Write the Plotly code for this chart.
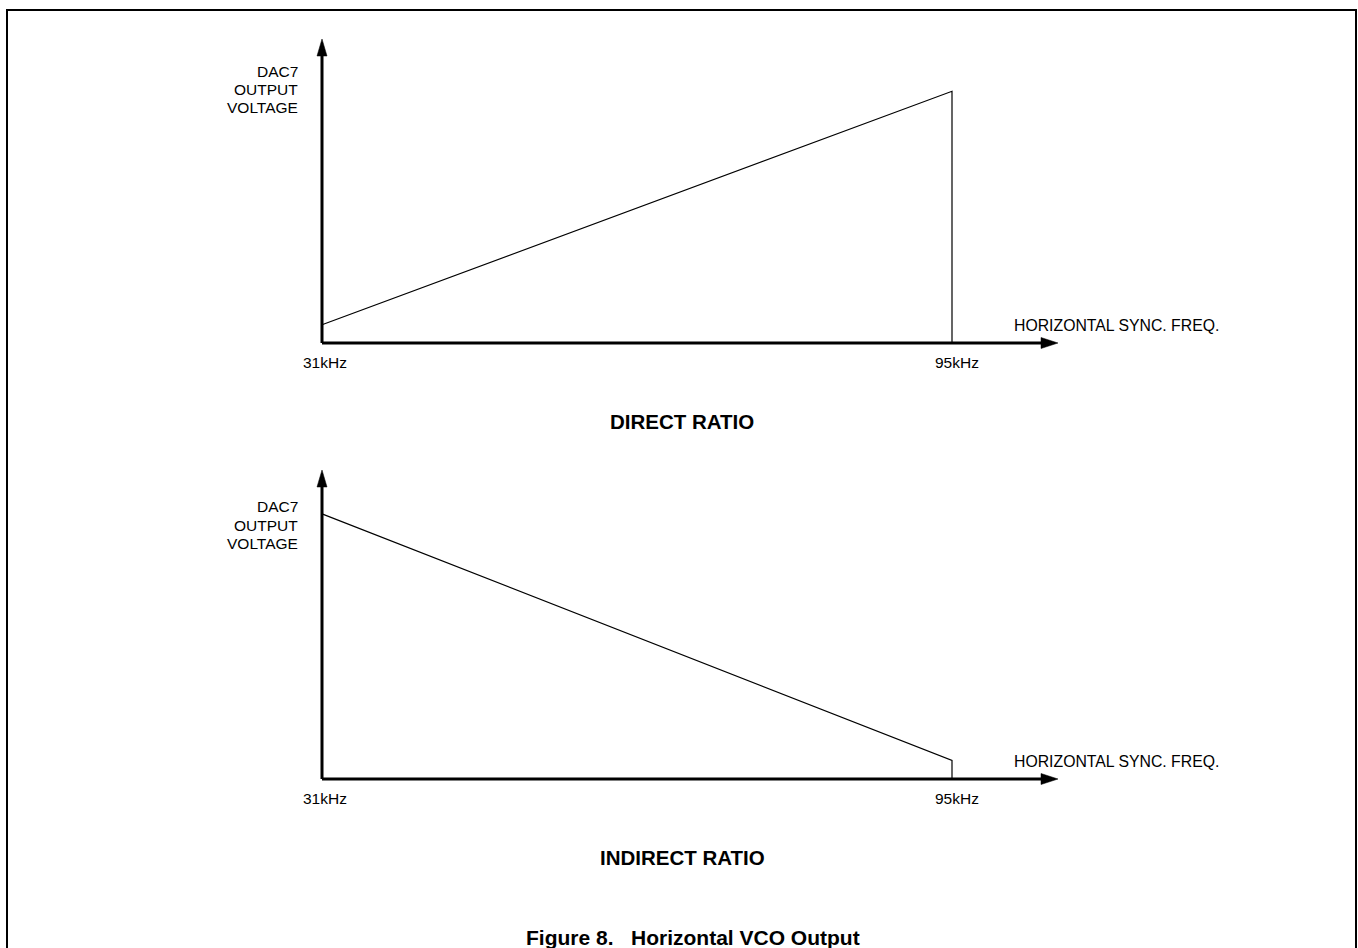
import plotly.graph_objects as go

# ---- data ----
freq_khz = [31, 95, 95]                 # sync frequency points (kHz)
direct_v = [0.30, 4.14, 0.0]            # DAC7 output, direct ratio (arb. units)
indirect_v = [4.29, 0.30, 0.0]          # DAC7 output, indirect ratio (arb. units)
freq_labels = ["31kHz", "95kHz"]
freq_ticks = [31, 95]
y_label_lines = ["DAC7", "OUTPUT", "VOLTAGE"]
x_label = "HORIZONTAL SYNC. FREQ."
panel_titles = ["DIRECT RATIO", "INDIRECT RATIO"]
caption = "Figure 8.\u00a0\u00a0 Horizontal VCO Output"

W, H = 1358, 948
FONT = "Liberation Sans, Arial, sans-serif"

def px(x):
    return x / W

def py(y):
    return 1 - y / H

# pixel scale of the drawing
X0_PX, X95_PX, XTIP_PX = 322, 952, 1058
KX = (X95_PX - X0_PX) / (95 - 31)            # px per kHz
PAD = 12
X_MIN = 31 - PAD / KX
X_MAX = 31 + (XTIP_PX + PAD - X0_PX) / KX
X_TIP = 31 + (XTIP_PX - X0_PX) / KX
X_ARROW_BASE = 31 + (XTIP_PX - 16 - X0_PX) / KX

panels = []
for origin_px, tip_px, xr, yr in ((343, 39, "x", "y"), (779, 470, "x2", "y2")):
    ky = (origin_px - tip_px) / 5.0
    panels.append(dict(origin=origin_px, tip=tip_px, ky=ky, xr=xr, yr=yr,
                       yrange=[-PAD / ky, (origin_px - tip_px + PAD) / ky],
                       ydomain=[py(origin_px + PAD), py(tip_px - PAD)],
                       ybase=(origin_px - tip_px - 16) / ky))

fig = go.Figure()
fig.add_trace(go.Scatter(x=freq_khz, y=direct_v, mode="lines",
                         line=dict(color="black", width=1.2),
                         xaxis="x", yaxis="y", showlegend=False, hoverinfo="skip"))
fig.add_trace(go.Scatter(x=freq_khz, y=indirect_v, mode="lines",
                         line=dict(color="black", width=1.2),
                         xaxis="x2", yaxis="y2", showlegend=False, hoverinfo="skip"))

hidden = dict(visible=False, showgrid=False, zeroline=False, fixedrange=True)
xdom = [px(X0_PX - PAD), px(XTIP_PX + PAD)]
fig.update_layout(
    width=W, height=H, autosize=False,
    margin=dict(l=0, r=0, t=0, b=0),
    paper_bgcolor="white", plot_bgcolor="rgba(0,0,0,0)",
    font=dict(family=FONT, color="black"),
    xaxis=dict(domain=xdom, range=[X_MIN, X_MAX], anchor="y", **hidden),
    yaxis=dict(domain=panels[0]["ydomain"], range=panels[0]["yrange"], anchor="x", **hidden),
    xaxis2=dict(domain=xdom, range=[X_MIN, X_MAX], anchor="y2", **hidden),
    yaxis2=dict(domain=panels[1]["ydomain"], range=panels[1]["yrange"], anchor="x2", **hidden),
)

shapes = []
# border
shapes.append(dict(type="rect", xref="paper", yref="paper",
                   x0=px(7), x1=px(1356), y0=-0.02, y1=py(10),
                   line=dict(color="black", width=2), fillcolor="rgba(0,0,0,0)", layer="below"))

for p in panels:
    xr, yr = p["xr"], p["yr"]
    shapes.append(dict(type="line", xref=xr, yref=yr, x0=31, y0=0, x1=X_ARROW_BASE, y1=0,
                       line=dict(color="black", width=3)))
    shapes.append(dict(type="line", xref=xr, yref=yr, x0=31, y0=0, x1=31, y1=p["ybase"],
                       line=dict(color="black", width=3)))
    shapes.append(dict(type="path", xref=xr, yref=yr, xsizemode="pixel", ysizemode="pixel",
                       xanchor=X_ARROW_BASE, yanchor=0,
                       path="M-1,-5.5 L16,0 L-1,5.5 Z",
                       fillcolor="black", line=dict(color="black", width=0.5)))
    shapes.append(dict(type="path", xref=xr, yref=yr, xsizemode="pixel", ysizemode="pixel",
                       xanchor=31, yanchor=p["ybase"],
                       path="M-5,-1 L5,-1 L0,16 Z",
                       fillcolor="black", line=dict(color="black", width=0.5)))
fig.update_layout(shapes=shapes)

ann = []
for off, p in zip((0, 436), panels):
    for i, t in enumerate(y_label_lines):
        ann.append(dict(text=t, xref="paper", yref="paper", x=px(300), y=py(71 + 18.3 * i + off),
                        xanchor="right", yanchor="middle", showarrow=False,
                        font=dict(size=15.5, family=FONT)))
    for lab, fk, sh in zip(freq_labels, freq_ticks, (3, 5)):
        ann.append(dict(text=lab, xref=p["xr"], yref="paper", x=fk, y=py(362 + off),
                        xanchor="center", yanchor="middle", showarrow=False, xshift=sh,
                        font=dict(size=15.5, family=FONT)))
    ann.append(dict(text=x_label, xref="paper", yref="paper", x=px(1012), y=py(325 + off),
                    xanchor="left", yanchor="middle", showarrow=False,
                    font=dict(size=15.8, family=FONT)))
for k, t in enumerate(panel_titles):
    ann.append(dict(text="<b>" + t + "</b>", xref="paper", yref="paper", x=px(682),
                    y=py(421.5 + 436 * k), xanchor="center", yanchor="middle", showarrow=False,
                    font=dict(size=20.5, family=FONT)))
ann.append(dict(text="<b>" + caption + "</b>", xref="paper", yref="paper", x=px(693), y=py(937),
                xanchor="center", yanchor="middle", showarrow=False,
                font=dict(size=21, family=FONT)))
fig.update_layout(annotations=ann)

fig.write_html("out.html", config={"displayModeBar": False})
